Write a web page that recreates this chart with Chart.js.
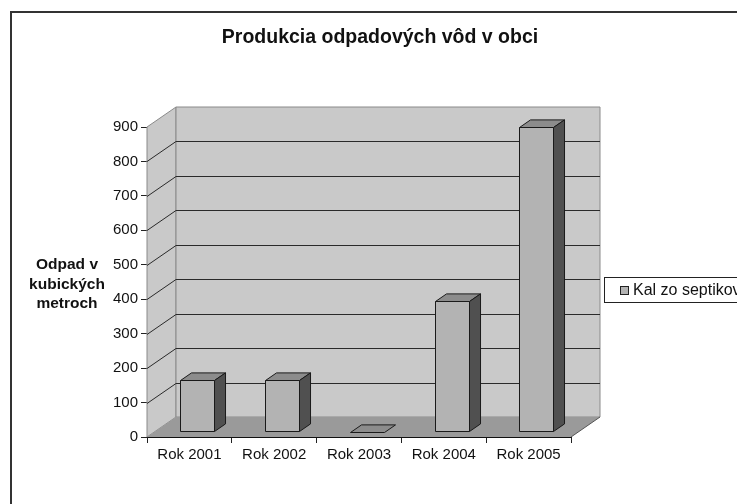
<!DOCTYPE html>
<html>
<head>
<meta charset="utf-8">
<script src="https://cdn.jsdelivr.net/npm/chart.js@4.4.1/dist/chart.umd.min.js"></script>
<style>
  html, body { margin: 0; padding: 0; background: #fff; }
  #wrap { position: relative; width: 737px; height: 504px; }
</style>
</head>
<body>
<div id="wrap"><canvas id="waste-chart"></canvas></div>
<script>
// chart data
const years = ["Rok 2001", "Rok 2002", "Rok 2003", "Rok 2004", "Rok 2005"];
const sludge = [150, 150, 0, 380, 885];
const seriesName = "Kal zo septikov";
const chartTitle = "Produkcia odpadových vôd v obci";
const yTitleLines = ["Odpad v", "kubických", "metroch"];

const FONT = "'Liberation Sans', Arial, sans-serif";

// oblique depth of the plot box and where the bars sit in it
const DEPTH_X = 29;
const DEPTH_Y = -20;
const BAR_OFFSET = 0.27;
const BAR_DEPTH = 0.38;

const colors = {
  wall: "#c9c9c9",
  wallEdge: "#8a8a8a",
  floor: "#9a9a9a",
  grid: "#2a2a2a",
  barFront: "#b3b3b3",
  barTop: "#8c8c8c",
  barSide: "#505050",
  outline: "#1a1a1a",
};

function poly(ctx, pts, fill, stroke) {
  ctx.beginPath();
  ctx.moveTo(pts[0][0], pts[0][1]);
  for (let i = 1; i < pts.length; i++) ctx.lineTo(pts[i][0], pts[i][1]);
  ctx.closePath();
  if (fill) { ctx.fillStyle = fill; ctx.fill(); }
  if (stroke) { ctx.strokeStyle = stroke; ctx.lineWidth = 1; ctx.stroke(); }
}

const box3d = {
  id: "box3d",
  beforeDatasetsDraw(chart) {
    const { ctx, chartArea: a, scales } = chart;
    const L = a.left, R = a.right, T = a.top, B = a.bottom;
    ctx.save();
    // side wall, back wall, floor
    poly(ctx, [[L, T], [L + DEPTH_X, T + DEPTH_Y], [L + DEPTH_X, B + DEPTH_Y], [L, B]], colors.wall, colors.wallEdge);
    poly(ctx, [[L + DEPTH_X, T + DEPTH_Y], [R + DEPTH_X, T + DEPTH_Y], [R + DEPTH_X, B + DEPTH_Y], [L + DEPTH_X, B + DEPTH_Y]], colors.wall, colors.wallEdge);
    // gridlines
    ctx.strokeStyle = colors.grid;
    ctx.lineWidth = 1;
    scales.y.ticks.forEach((t) => {
      if (t.value <= 0 || t.value >= scales.y.max) return;
      const y = Math.round(scales.y.getPixelForValue(t.value)) + 0.5;
      ctx.beginPath();
      ctx.moveTo(L, y);
      ctx.lineTo(L + DEPTH_X, y + DEPTH_Y);
      ctx.lineTo(R + DEPTH_X, y + DEPTH_Y);
      ctx.stroke();
    });
    poly(ctx, [[L, B], [R, B], [R + DEPTH_X, B + DEPTH_Y], [L + DEPTH_X, B + DEPTH_Y]], colors.floor, null);
    ctx.strokeStyle = "#555";
    ctx.beginPath();
    ctx.moveTo(R, B);
    ctx.lineTo(R + DEPTH_X, B + DEPTH_Y);
    ctx.stroke();
    ctx.restore();
  },
  beforeDatasetDraw(chart, args) {
    const ctx = chart.ctx;
    const ox = DEPTH_X * BAR_OFFSET, oy = DEPTH_Y * BAR_OFFSET;
    const dx = DEPTH_X * BAR_DEPTH, dy = DEPTH_Y * BAR_DEPTH;
    ctx.save();
    args.meta.data.forEach((bar) => {
      const l = Math.round(bar.x - bar.width / 2 + ox) + 0.5;
      const r = Math.round(bar.x + bar.width / 2 + ox) + 0.5;
      const t = Math.round(bar.y + oy) + 0.5;
      const b = Math.round(bar.base + oy) + 0.5;
      poly(ctx, [[l, t], [r, t], [r + dx, t + dy], [l + dx, t + dy]], colors.barTop, colors.outline);
      if (b - t < 1) return;
      poly(ctx, [[r, t], [r + dx, t + dy], [r + dx, b + dy], [r, b]], colors.barSide, colors.outline);
      poly(ctx, [[l, t], [r, t], [r, b], [l, b]], colors.barFront, colors.outline);
    });
    ctx.restore();
    return false;
  },
  afterDraw(chart) {
    const ctx = chart.ctx;
    ctx.save();
    // outer frame
    ctx.strokeStyle = "#333";
    ctx.lineWidth = 2;
    ctx.beginPath();
    ctx.moveTo(11, 504);
    ctx.lineTo(11, 12);
    ctx.lineTo(737, 12);
    ctx.stroke();
    // title
    ctx.fillStyle = "#111";
    ctx.textAlign = "center";
    ctx.textBaseline = "alphabetic";
    ctx.font = "bold 19.5px " + FONT;
    ctx.fillText(chartTitle, 380, 43);
    // y axis title
    ctx.font = "bold 15.5px " + FONT;
    yTitleLines.forEach((line, i) => ctx.fillText(line, 67, 269 + i * 19.5));
    // legend
    ctx.lineWidth = 1;
    ctx.strokeStyle = "#222";
    ctx.fillStyle = "#fff";
    ctx.fillRect(604.5, 277.5, 200, 25);
    ctx.strokeRect(604.5, 277.5, 200, 25);
    ctx.fillStyle = colors.barFront;
    ctx.fillRect(620.5, 286.5, 8, 8);
    ctx.strokeRect(620.5, 286.5, 8, 8);
    ctx.fillStyle = "#111";
    ctx.textAlign = "left";
    ctx.textBaseline = "middle";
    ctx.font = "16px " + FONT;
    ctx.fillText(chart.data.datasets[0].label, 633, 291);
    ctx.restore();
  },
};

new Chart(document.getElementById("waste-chart"), {
  type: "bar",
  data: {
    labels: years,
    datasets: [
      {
        label: seriesName,
        data: sludge,
        backgroundColor: colors.barFront,
        categoryPercentage: 1,
        barPercentage: 0.4,
      },
    ],
  },
  options: {
    responsive: true,
    maintainAspectRatio: false,
    animation: false,
    layout: { padding: { left: 0, top: 127, right: 166, bottom: 0 } },
    plugins: {
      legend: { display: false },
      title: { display: false },
      tooltip: { enabled: false },
    },
    scales: {
      x: {
        afterFit: (s) => { s.height = 67; },
        grid: { drawOnChartArea: false, tickLength: 6, color: "#222", offset: true },
        border: { color: "#111", width: 1 },
        ticks: { color: "#111", padding: 3, font: { family: FONT, size: 15 } },
      },
      y: {
        min: 0,
        max: 900,
        afterFit: (s) => { s.width = 147; },
        grid: { drawOnChartArea: false, tickLength: 6, color: "#222" },
        border: { color: "#111", width: 1 },
        ticks: { stepSize: 100, color: "#111", padding: 3, font: { family: FONT, size: 15 } },
      },
    },
  },
  plugins: [box3d],
});
</script>
</body>
</html>
